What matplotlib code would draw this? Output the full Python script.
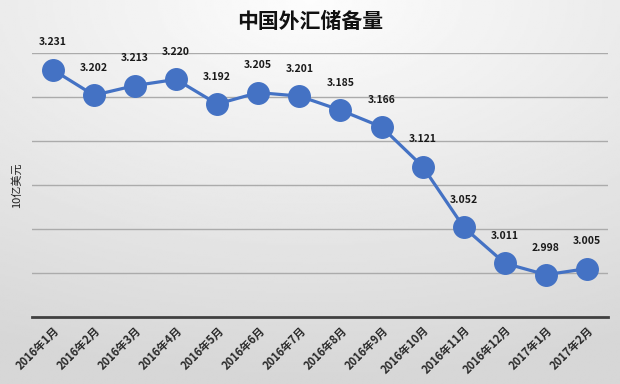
import matplotlib
matplotlib.use("Agg")
import matplotlib.pyplot as plt
import numpy as np

plt.rcParams['font.family'] = ['Noto Sans CJK SC', 'DejaVu Sans']

months = ["2016年1月", "2016年2月", "2016年3月", "2016年4月", "2016年5月", "2016年6月",
          "2016年7月", "2016年8月", "2016年9月", "2016年10月", "2016年11月", "2016年12月",
          "2017年1月", "2017年2月"]
reserves = [3.231, 3.202, 3.213, 3.220, 3.192, 3.205, 3.201, 3.185, 3.166, 3.121,
            3.052, 3.011, 2.998, 3.005]

fig = plt.figure(figsize=(6.2, 3.84), dpi=100)

# gradient background (light at top centre, grey towards bottom/edges)
bg = fig.add_axes([0, 0, 1, 1], zorder=0)
yy, xx = np.mgrid[0:1:200j, 0:1:300j]
dist = np.sqrt(((xx - 0.5) * 0.9) ** 2 + (yy * 1.0) ** 2)
shade = 0.99 - 0.15 * np.clip(dist, 0, 1)
bg.imshow(shade, cmap='gray', vmin=0, vmax=1, aspect='auto', extent=[0, 1, 0, 1], origin='upper')
bg.axis('off')

ax = fig.add_axes([0.052, 0.1745, 0.928, 0.6875], zorder=1)
ax.patch.set_alpha(0)
x = np.arange(len(months))
ax.plot(x, reserves, color='#4472C4', linewidth=2.3, marker='o', markersize=15.5, zorder=3)
for xi, v in zip(x, reserves):
    ax.annotate("%.3f" % v, (xi, v), xytext=(0, 16), textcoords='offset points',
                ha='center', va='bottom', fontsize=7.5, fontweight='bold', color='#1a1a1a')

ax.set_xlim(-0.5, len(months) - 0.5)
ax.set_ylim(2.95, 3.25)
ax.set_yticks([3.00, 3.05, 3.10, 3.15, 3.20, 3.25])
ax.yaxis.grid(True, color='#ababab', linewidth=1)
ax.set_axisbelow(True)
ax.tick_params(axis='y', length=0, labelleft=False)
ax.tick_params(axis='x', length=0, pad=5)
ax.set_xticks(x)
ax.set_xticklabels(months, rotation=45, ha='right', rotation_mode='anchor',
                   fontsize=8, color='#2a2a2a', fontweight='bold')
for s in ['top', 'right', 'left']:
    ax.spines[s].set_visible(False)
ax.spines['bottom'].set_color('#404040')
ax.spines['bottom'].set_linewidth(2)

ax.set_ylabel("10亿美元", fontsize=8, color='#222222')
ax.yaxis.set_label_coords(-0.018, 0.5)

fig.text(0.5, 0.945, "中国外汇储备量", ha='center', va='center', fontsize=15,
         fontweight='bold', color='#111111')

fig.savefig("out.png", dpi=100)
